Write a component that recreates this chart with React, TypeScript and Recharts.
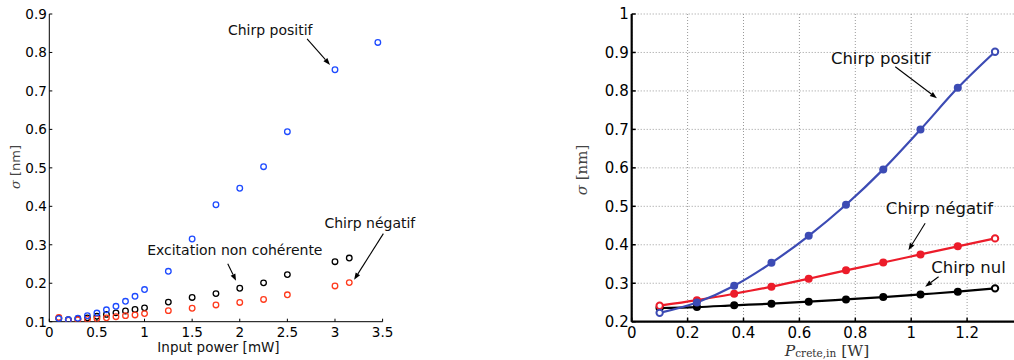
import React from 'react';
import {
  ScatterChart,
  Scatter,
  LineChart,
  Line,
  XAxis,
  YAxis,
  CartesianGrid,
  ReferenceLine,
  ReferenceDot,
} from 'recharts';

// ---------- Left panel data (Input power [mW] vs sigma [nm]) ----------
const leftPowerBlue = [0.1, 0.2, 0.3, 0.4, 0.5, 0.6, 0.7, 0.8, 0.9, 1.0, 1.25, 1.5, 1.75, 2.0, 2.25, 2.5, 3.0, 3.45];
const leftSigmaBlue = [0.108, 0.105, 0.109, 0.1155, 0.1225, 0.131, 0.14, 0.153, 0.166, 0.1836, 0.231, 0.315, 0.404, 0.447, 0.503, 0.594, 0.755, 0.826];
const leftPowerOther = [0.1, 0.2, 0.3, 0.4, 0.5, 0.6, 0.7, 0.8, 0.9, 1.0, 1.25, 1.5, 1.75, 2.0, 2.25, 2.5, 3.0, 3.15];
const leftSigmaBlack = [0.109, 0.105, 0.107, 0.11, 0.114, 0.119, 0.123, 0.128, 0.132, 0.136, 0.151, 0.163, 0.173, 0.187, 0.201, 0.2225, 0.256, 0.2655];
const leftSigmaRed = [0.111, 0.104, 0.105, 0.106, 0.108, 0.11, 0.113, 0.1157, 0.1175, 0.121, 0.1287, 0.135, 0.1436, 0.15, 0.1578, 0.17, 0.193, 0.2017];
const leftXTicks = [0, 0.5, 1, 1.5, 2, 2.5, 3, 3.5];
const leftYTicks = [0.1, 0.2, 0.3, 0.4, 0.5, 0.6, 0.7, 0.8, 0.9];

// ---------- Right panel data (P_crete,in [W] vs sigma [nm]) ----------
const rightPower = [0.1, 0.2333, 0.3667, 0.5, 0.6333, 0.7667, 0.9, 1.0333, 1.1667, 1.3];
const rightSigmaPositive = [0.223, 0.25, 0.2935, 0.353, 0.4234, 0.504, 0.596, 0.6997, 0.808, 0.902];
const rightSigmaNegative = [0.2416, 0.256, 0.2727, 0.291, 0.3117, 0.3335, 0.354, 0.375, 0.396, 0.4166];
const rightSigmaZero = [0.2356, 0.238, 0.2425, 0.2468, 0.252, 0.258, 0.264, 0.271, 0.278, 0.2867];
const rightXTicks = [0, 0.2, 0.4, 0.6, 0.8, 1, 1.2];
const rightYTicks = [0.2, 0.3, 0.4, 0.5, 0.6, 0.7, 0.8, 0.9, 1];

const toPoints = (xs: number[], ys: number[]) => xs.map((x, i) => ({ x, y: ys[i] }));
const leftBlue = toPoints(leftPowerBlue, leftSigmaBlue);
const leftBlack = toPoints(leftPowerOther, leftSigmaBlack);
const leftRed = toPoints(leftPowerOther, leftSigmaRed);
const rightData = rightPower.map((p, i) => ({
  p,
  pos: rightSigmaPositive[i],
  neg: rightSigmaNegative[i],
  zero: rightSigmaZero[i],
}));

const SANS = '"DejaVu Sans", sans-serif';
const SERIF = '"DejaVu Serif", "Liberation Serif", serif';

const LEFT_BLUE = '#1e4bff';
const LEFT_RED = '#ff3a1c';
const RIGHT_BLUE = '#3c4bb4';
const RIGHT_RED = '#ec1c2a';

// ---------- helpers ----------
const Arrow = (props: any) => {
  const { x1, y1, x2, y2 } = props;
  if ([x1, y1, x2, y2].some((v) => typeof v !== 'number' || isNaN(v))) return null;
  const a = Math.atan2(y2 - y1, x2 - x1);
  const L = 7;
  const W = 2.6;
  const bx = x2 - L * Math.cos(a);
  const by = y2 - L * Math.sin(a);
  const pts = `${x2},${y2} ${bx + W * Math.sin(a)},${by - W * Math.cos(a)} ${bx - W * Math.sin(a)},${by + W * Math.cos(a)}`;
  return (
    <g>
      <line x1={x1} y1={y1} x2={bx} y2={by} stroke="#000" strokeWidth={1.1} />
      <polygon points={pts} fill="#000" />
    </g>
  );
};

const makeTextShape = (label: string, size: number, anchor: 'start' | 'middle' | 'end') => (p: any) => (
  <text
    x={p.cx}
    y={p.cy}
    dy={size * 0.36}
    textAnchor={anchor}
    fontFamily={SANS}
    fontSize={size}
    fill="#111"
  >
    {label}
  </text>
);

const fmt = (v: number) => String(v);

const LeftXTick = (p: any) => (
  <g>
    <line x1={p.x} y1={p.y} x2={p.x} y2={p.y - 3} stroke="#000" strokeWidth={1} />
    <text x={p.x} y={p.y + 15} textAnchor="middle" fontFamily={SANS} fontSize={13.5} fill="#000">
      {fmt(p.payload.value)}
    </text>
  </g>
);
const LeftYTick = (p: any) => (
  <g>
    <line x1={p.x} y1={p.y} x2={p.x + 3} y2={p.y} stroke="#000" strokeWidth={1} />
    <text x={p.x - 2.5} y={p.y} dy={13.5 * 0.36} textAnchor="end" fontFamily={SANS} fontSize={13.5} fill="#000">
      {fmt(p.payload.value)}
    </text>
  </g>
);
const RightXTick = (p: any) => (
  <g>
    <line x1={p.x} y1={p.y} x2={p.x} y2={p.y - 4} stroke="#000" strokeWidth={1.5} />
    <text x={p.x} y={p.y + 16.5} textAnchor="middle" fontFamily={SANS} fontSize={15} fill="#000">
      {fmt(p.payload.value)}
    </text>
  </g>
);
const RightTopTick = (p: any) => (
  <line x1={p.x} y1={p.y} x2={p.x} y2={p.y + 4} stroke="#000" strokeWidth={1.5} />
);
const RightYTick = (p: any) => (
  <g>
    <line x1={p.x} y1={p.y} x2={p.x + 4} y2={p.y} stroke="#000" strokeWidth={1.5} />
    <text x={p.x - 3} y={p.y} dy={15 * 0.36} textAnchor="end" fontFamily={SANS} fontSize={15} fill="#000">
      {fmt(p.payload.value)}
    </text>
  </g>
);

const hollow = (color: string) => (p: any) => (
  <circle cx={p.cx} cy={p.cy} r={2.8} fill="none" stroke={color} strokeWidth={1.3} />
);

const makeDot = (color: string, n: number) => (p: any) => {
  const end = p.index === 0 || p.index === n - 1;
  return end ? (
    <circle key={`d-${p.index}`} cx={p.cx} cy={p.cy} r={3.2} fill="#fff" stroke={color} strokeWidth={2} />
  ) : (
    <circle key={`d-${p.index}`} cx={p.cx} cy={p.cy} r={4} fill={color} stroke="none" />
  );
};

export default function App() {
  return (
    <div
      style={{
        position: 'absolute',
        left: 0,
        top: 0,
        width: 1014,
        height: 360,
        overflow: 'hidden',
        background: '#fff',
      }}
    >
      {/* Left panel */}
      <div style={{ position: 'absolute', left: 0, top: 0 }}>
        <ScatterChart width={480} height={360} margin={{ top: 14, right: 97.4, bottom: 0, left: 0 }}>
          <XAxis
            type="number"
            dataKey="x"
            domain={[0, 3.5]}
            ticks={leftXTicks}
            height={38.3}
            tickSize={0}
            tickMargin={0}
            tick={LeftXTick}
            axisLine={{ stroke: '#000', strokeWidth: 1 }}
            tickLine={false}
            allowDataOverflow
          />
          <YAxis
            type="number"
            dataKey="y"
            domain={[0.1, 0.9]}
            ticks={leftYTicks}
            width={49.3}
            tickSize={0}
            tickMargin={0}
            tick={LeftYTick}
            axisLine={{ stroke: '#000', strokeWidth: 1 }}
            tickLine={false}
            allowDataOverflow
          />
          <Scatter data={leftBlack} fill="none" shape={hollow('#000')} isAnimationActive={false} />
          <Scatter data={leftRed} fill="none" shape={hollow(LEFT_RED)} isAnimationActive={false} />
          <Scatter data={leftBlue} fill="none" shape={hollow(LEFT_BLUE)} isAnimationActive={false} />
          <ReferenceDot x={2.32} y={0.858} r={0} ifOverflow="visible" shape={makeTextShape('Chirp positif', 14, 'middle')} />
          <ReferenceLine
            segment={[{ x: 2.707, y: 0.8355 }, { x: 2.948, y: 0.7677 }]}
            ifOverflow="visible"
            shape={Arrow}
          />
          <ReferenceDot x={1.948} y={0.287} r={0} ifOverflow="visible" shape={makeTextShape('Excitation non cohérente', 14, 'middle')} />
          <ReferenceLine
            segment={[{ x: 1.874, y: 0.2507 }, { x: 1.961, y: 0.2063 }]}
            ifOverflow="visible"
            shape={Arrow}
          />
          <ReferenceDot x={2.889} y={0.357} r={0} ifOverflow="visible" shape={makeTextShape('Chirp négatif', 14, 'start')} />
          <ReferenceLine
            segment={[{ x: 3.508, y: 0.329 }, { x: 3.201, y: 0.209 }]}
            ifOverflow="visible"
            shape={Arrow}
          />
        </ScatterChart>
      </div>

      {/* Right panel */}
      <div style={{ position: 'absolute', left: 560, top: 0 }}>
        <LineChart width={463} height={360} data={rightData} margin={{ top: 14, right: 0, bottom: 0, left: 0 }}>
          <CartesianGrid stroke="#999" strokeDasharray="1 2" strokeWidth={1} />
          <XAxis
            type="number"
            dataKey="p"
            domain={[0, 1.4]}
            ticks={rightXTicks}
            height={38.3}
            tickSize={0}
            tickMargin={0}
            tick={RightXTick}
            axisLine={{ stroke: '#000', strokeWidth: 2.2 }}
            tickLine={false}
          />
          <XAxis
            xAxisId="top"
            orientation="top"
            type="number"
            dataKey="p"
            domain={[0, 1.4]}
            ticks={rightXTicks}
            height={0}
            tickSize={0}
            tickMargin={0}
            tick={RightTopTick}
            axisLine={{ stroke: '#000', strokeWidth: 2.2 }}
            tickLine={false}
          />
          <YAxis
            type="number"
            domain={[0.2, 1]}
            ticks={rightYTicks}
            width={71.7}
            tickSize={0}
            tickMargin={0}
            tick={RightYTick}
            axisLine={{ stroke: '#000', strokeWidth: 2.2 }}
            tickLine={false}
          />
          <Line
            dataKey="zero"
            type="monotone"
            stroke="#000"
            strokeWidth={2.2}
            dot={makeDot('#000', rightPower.length)}
            activeDot={false}
            isAnimationActive={false}
          />
          <Line
            dataKey="neg"
            type="monotone"
            stroke={RIGHT_RED}
            strokeWidth={2.2}
            dot={makeDot(RIGHT_RED, rightPower.length)}
            activeDot={false}
            isAnimationActive={false}
          />
          <Line
            dataKey="pos"
            type="monotone"
            stroke={RIGHT_BLUE}
            strokeWidth={2.2}
            dot={makeDot(RIGHT_BLUE, rightPower.length)}
            activeDot={false}
            isAnimationActive={false}
          />
          <ReferenceDot x={0.891} y={0.885} r={0} ifOverflow="visible" shape={makeTextShape('Chirp positif', 16.5, 'middle')} />
          <ReferenceLine segment={[{ x: 0.943, y: 0.863 }, { x: 1.092, y: 0.781 }]} ifOverflow="visible" shape={Arrow} />
          <ReferenceDot x={1.101} y={0.495} r={0} ifOverflow="visible" shape={makeTextShape('Chirp négatif', 16.5, 'middle')} />
          <ReferenceLine segment={[{ x: 1.05, y: 0.456 }, { x: 0.99, y: 0.386 }]} ifOverflow="visible" shape={Arrow} />
          <ReferenceDot x={1.205} y={0.343} r={0} ifOverflow="visible" shape={makeTextShape('Chirp nul', 16.5, 'middle')} />
          <ReferenceLine segment={[{ x: 1.098, y: 0.317 }, { x: 1.05, y: 0.291 }]} ifOverflow="visible" shape={Arrow} />
        </LineChart>
      </div>

      {/* Axis titles */}
      <svg
        width={1014}
        height={360}
        style={{ position: 'absolute', left: 0, top: 0, pointerEvents: 'none' }}
      >
        <text
          transform="translate(20,167) rotate(-90)"
          textAnchor="middle"
          fontSize={13}
          fill="#444"
        >
          <tspan fontFamily={SERIF} fontStyle="italic">σ</tspan>
          <tspan fontFamily={SANS}> [nm]</tspan>
        </text>
        <text x={218.5} y={351.5} textAnchor="middle" fontFamily={SANS} fontSize={13.5} fill="#111">
          Input power [mW]
        </text>
        <text
          transform="translate(587,170) rotate(-90)"
          textAnchor="middle"
          fontSize={15}
          fill="#444"
          fontFamily={SERIF}
        >
          <tspan fontStyle="italic">σ</tspan>
          <tspan> [nm]</tspan>
        </text>
        <text x={827} y={355.5} textAnchor="middle" fontFamily={SERIF} fill="#333">
          <tspan fontSize={15.5}>
            <tspan fontStyle="italic">P</tspan>
          </tspan>
          <tspan fontSize={10.5} dy={1.5}>crete,in</tspan>
          <tspan fontSize={15.5} dy={-1.5}> [W]</tspan>
        </text>
      </svg>
    </div>
  );
}
